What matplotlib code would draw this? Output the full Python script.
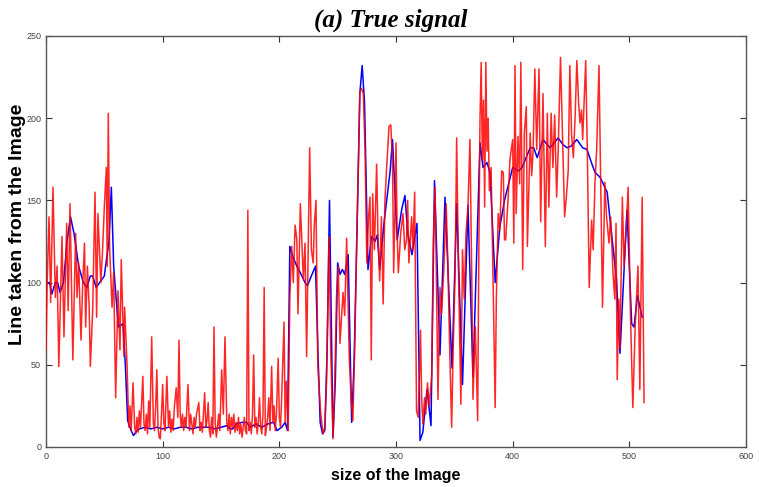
import matplotlib
matplotlib.use("Agg")
import matplotlib.pyplot as plt

# ---- data ----
blue_x = [0, 3, 5, 8, 10, 12, 15, 18, 21, 24, 28, 32, 35, 38, 40, 43, 46, 50, 52, 54, 56, 58, 62, 66, 68, 70,
          73, 75, 78, 80, 85, 90, 95, 100, 105, 110, 115, 120, 125, 130, 135, 140, 145, 150, 155, 158, 160,
          163, 168, 172, 175, 180, 185, 190, 195, 198, 202, 205, 207, 209, 212, 215, 218, 222, 224, 228, 231,
          233, 235, 237, 239, 241, 243, 244.5, 246, 248, 250, 252, 254, 256, 259, 262, 264, 266.6, 269, 271,
          273, 276, 279, 282, 284, 286, 290, 295, 297, 301, 305, 307.7, 310, 313.7, 318, 320.6, 323, 326.6,
          330, 333, 337.7, 342, 348, 352, 357, 361.7, 366, 372, 374.6, 378, 380.6, 385, 389, 393, 400, 405,
          408, 415, 418, 421, 426, 432, 439, 443, 446.6, 450, 455, 460, 463.7, 468, 470.6, 475, 481, 485, 489,
          492, 495, 498, 502, 504, 507, 511]
blue_y = [100, 100, 93, 100, 100, 94, 100, 125, 140, 130, 110, 100, 97, 104, 104, 97, 100, 104, 115, 125, 158,
          110, 73, 75, 50, 16, 10, 7, 10, 11, 12, 11, 12, 11, 12, 11, 12, 12, 11, 12, 12, 12, 11, 12, 13, 11,
          11, 14, 15, 15, 12, 14, 12, 14, 15, 10, 12, 15, 10, 122, 115, 110, 106, 100, 98, 105, 110, 60, 15, 8,
          10, 60, 150, 80, 6, 40, 112, 105, 108, 105, 117, 15, 50, 132, 215, 232, 210, 108, 128, 125, 129, 108,
          138, 168, 187, 126, 145, 153, 130, 117, 136, 4, 9, 35, 13, 162, 56, 152, 48, 148, 38, 147, 43, 185,
          170, 173, 167, 100, 134, 150, 170, 168, 170, 182, 182, 176, 187, 182, 188, 184, 182, 183, 187, 182,
          181, 172, 167, 164, 155, 128, 102, 57, 100, 144, 75, 73, 92, 79]

red_x = [0, 1, 2.6, 4, 6, 8, 9.5, 11, 13.7, 15.4, 17.7, 19, 20.6, 23, 25.4, 26.6, 28, 30, 31.5, 33, 34, 35.5,
         37, 38, 40, 42, 43.4, 44.5, 47, 48.5, 50, 51.7, 52.5, 53.4, 54.5, 56.6, 58, 59.7, 61.7, 63.4, 64.5,
         66.8, 67.4, 69.4, 71, 72, 73, 74.6, 76, 77, 78, 79, 80, 81, 83, 84, 85, 86, 87, 88, 89, 90.6, 92, 93,
         94, 95, 96, 97, 98, 99, 100, 101, 102, 103.6, 105, 106, 107, 108, 109, 110, 111.6, 113, 114, 115,
         116, 117, 118, 119, 120, 121.7, 123, 124, 125, 126, 127, 128, 129, 131, 132, 133, 134, 136, 137, 138,
         139, 140, 141, 142, 143, 144, 145, 146, 147, 148, 149, 150.6, 152, 153.4, 155, 156, 157, 158, 159,
         160, 161, 162, 163, 164, 165, 166, 167, 168, 169, 170, 171, 172, 173, 174, 175, 176, 177, 178, 179,
         180, 181, 182, 183, 184, 185, 186, 187, 188, 189, 190, 191, 192, 193.4, 194.5, 195.5, 196.5, 197.5,
         199, 200, 201, 202, 204, 205, 206, 207, 207.6, 209, 210.6, 212, 213.5, 215, 216, 218, 220.6, 222,
         223.4, 224.5, 226, 227.5, 229, 230, 231.4, 233, 235.4, 237.5, 239, 240.5, 242.6, 244, 246, 247.5,
         249, 250.5, 252, 254.6, 256, 257.7, 258.5, 260, 261.5, 263, 264.6, 266.6, 268, 269, 270.5, 272,
         273.5, 275, 276.5, 277.7, 278.8, 280, 281.5, 283.4, 284.5, 286, 287.5, 289, 290.5, 292, 294, 295.5,
         297, 298, 299, 300, 301, 302, 304, 306, 307.5, 309, 310, 311, 313.4, 314.5, 316, 317.6, 319, 320,
         321, 322, 323, 324.5, 325.5, 327, 328.5, 330.6, 332, 333.4, 334.5, 336, 337.7, 339, 341, 343, 344.5,
         346, 347.7, 349, 350.6, 352, 353.5, 355.6, 357, 358.5, 360, 361.7, 363.4, 365, 366, 368, 370, 371,
         372, 373, 374, 375, 376, 377, 378, 379, 380, 381.5, 383, 385, 386, 387.6, 389, 390.6, 392, 393, 394,
         396, 397.7, 400, 401, 402, 403, 404.6, 406, 407, 408.6, 410, 411.7, 412.6, 414, 415, 416.3, 417.5,
         419, 420.6, 422.6, 424, 426, 428, 429.7, 431, 433, 434.5, 436, 437.7, 439, 441, 443, 444.5, 446,
         447.6, 449, 450.5, 452, 453.5, 455, 456.5, 457.7, 459, 460, 462.6, 464, 465.6, 467.7, 469, 470.5,
         472, 474, 476, 477, 479, 480.5, 482.6, 484, 486, 487.5, 488.6, 489.6, 491, 492, 494, 495.5, 497, 499,
         501, 503, 505, 507.4, 509, 511, 512.6]
red_y = [59, 100, 140, 88, 158, 91, 110, 49, 128, 67, 136, 83, 148, 53, 130, 91, 112, 65, 100, 124, 73, 110,
         85, 49, 83, 155, 79, 142, 100, 120, 146, 170, 110, 203, 122, 85, 106, 30, 95, 59, 114, 55, 85, 51, 12,
         25, 10, 39, 12, 8, 18, 9, 22, 12, 43, 14, 10, 20, 8, 28, 12, 67, 15, 10, 25, 47, 12, 6, 5, 20, 38, 15,
         10, 43, 12, 22, 9, 17, 10, 24, 36, 18, 65, 20, 12, 20, 10, 18, 12, 38, 10, 20, 14, 8, 18, 12, 20, 27,
         10, 15, 9, 33, 12, 16, 27, 10, 6, 18, 8, 73, 15, 6, 12, 20, 10, 47, 20, 67, 15, 10, 20, 8, 18, 12, 20,
         9, 15, 10, 18, 8, 14, 6, 12, 18, 10, 8, 144, 10, 15, 8, 20, 56, 12, 18, 8, 15, 30, 12, 8, 20, 97, 7,
         12, 18, 30, 10, 49, 15, 25, 10, 20, 54, 18, 12, 30, 76, 15, 40, 20, 10, 91, 122, 100, 135, 126, 81,
         148, 102, 124, 55, 110, 182, 120, 112, 135, 150, 49, 21, 8, 12, 40, 128, 60, 5, 40, 91, 110, 63, 94,
         80, 127, 100, 53, 30, 16, 59, 136, 180, 216, 218, 215, 180, 112, 140, 152, 53, 154, 120, 172, 130,
         101, 140, 87, 150, 170, 195, 196, 175, 106, 140, 185, 130, 106, 130, 142, 120, 126, 150, 112, 140,
         120, 155, 22, 18, 40, 71, 30, 14, 30, 20, 39, 25, 43, 126, 158, 110, 29, 97, 81, 108, 148, 110, 60,
         12, 60, 103, 188, 110, 26, 120, 90, 130, 146, 187, 100, 29, 73, 16, 120, 199, 234, 175, 211, 146, 234,
         180, 200, 156, 170, 110, 24, 90, 142, 132, 168, 167, 126, 126, 150, 175, 187, 124, 232, 142, 189, 160,
         234, 108, 191, 207, 122, 160, 191, 165, 180, 230, 181, 230, 137, 215, 122, 203, 146, 203, 170, 202,
         152, 180, 237, 182, 140, 152, 168, 232, 190, 176, 200, 235, 210, 197, 205, 187, 235, 180, 97, 138,
         120, 160, 181, 232, 136, 85, 161, 140, 124, 140, 106, 90, 136, 41, 90, 60, 152, 110, 130, 158, 80, 24,
         73, 110, 35, 152, 27]

x_ticks = [0, 100, 200, 300, 400, 500, 600]
y_ticks = [0, 50, 100, 150, 200, 250]

fig = plt.figure(figsize=(7.59, 4.87), dpi=100)
ax = fig.add_axes([46 / 759, 40 / 487, 700 / 759, 411 / 487])

ax.plot(blue_x, blue_y, color="#0000ff", lw=1.1, zorder=2)
ax.plot(red_x, red_y, color="#ff0000", lw=1.1, alpha=0.85, zorder=3)

ax.set_xlim(0, 600)
ax.set_ylim(0, 250)
ax.set_xticks(x_ticks)
ax.set_yticks(y_ticks)
ax.tick_params(direction="in", top=True, right=True, length=4, width=0.8,
               labelsize=6.5, labelcolor="#444444", color="#333333")
for lab in ax.get_xticklabels() + ax.get_yticklabels():
    lab.set_family("Liberation Sans")
for s in ax.spines.values():
    s.set_color("#555555")
    s.set_linewidth(1.0)

ax.set_xlabel("size of the Image", fontsize=11.5, fontweight="bold",
              family="Liberation Sans")
ax.xaxis.set_label_coords(0.5, -0.05)
ax.set_ylabel("Line taken from the Image", fontsize=14, fontweight="bold",
              family="Liberation Sans")
ax.yaxis.set_label_coords(-0.028, 0.543)

fig.text(391 / 759, 0.959, "(a) True signal", ha="center", va="center", fontsize=18,
         fontweight="bold", fontstyle="italic", family="Liberation Serif")

fig.savefig("out.png", dpi=100)
